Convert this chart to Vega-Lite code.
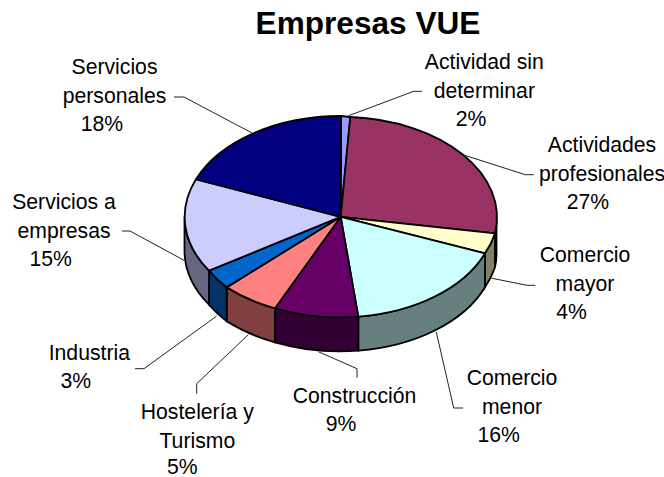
{"$schema":"https://vega.github.io/schema/vega-lite/v6.json","width":664,"height":477,"padding":0,"autosize":{"type":"none"},"background":"white","config":{"view":{"stroke":null}},
"data":{"values":[
{"sector":"Actividad sin determinar","label":"Actividad sin\ndeterminar","share":0.02},
{"sector":"Actividades profesionales","label":"Actividades\nprofesionales","share":0.27},
{"sector":"Comercio mayor","label":"Comercio\nmayor","share":0.04},
{"sector":"Comercio menor","label":"Comercio\nmenor","share":0.16},
{"sector":"Construcción","label":"Construcción","share":0.09},
{"sector":"Hostelería y Turismo","label":"Hostelería y\nTurismo","share":0.05},
{"sector":"Industria","label":"Industria","share":0.03},
{"sector":"Servicios a empresas","label":"Servicios a\nempresas","share":0.15},
{"sector":"Servicios personales","label":"Servicios\npersonales","share":0.18}
]},
"resolve":{"scale":{"shape":"independent","color":"independent"}},
"layer":[
{"data":{"values":[{"heading":"Empresas VUE"}]},"mark":{"type":"text","font":"Liberation Sans","fontSize":31.6,"fontWeight":"bold","color":"black","align":"center","baseline":"alphabetic","dx":36,"dy":-204.5},"encoding":{"text":{"field":"heading","type":"nominal"}}},
{"transform":[{"filter":"datum.sector!='Actividad sin determinar'&&datum.sector!='Servicios personales'"}],
"mark":{"type":"point","filled":true,"opacity":1,"size":4,"stroke":"black","strokeWidth":1.8},
"encoding":{
"shape":{"field":"sector","type":"nominal","legend":null,"scale":{"domain":["Actividades profesionales","Comercio mayor","Comercio menor","Construcción","Hostelería y Turismo","Industria","Servicios a empresas"],"range":[
"M164.5,-22 A156,100.5 0 0 1 163,-5.2 L163,28.8 A156,100.5 0 0 0 164.5,12 Z",
"M163,-5.2 A156,100.5 0 0 1 153,14.8 L153,48.8 A156,100.5 0 0 0 163,28.8 Z",
"M153,14.8 A156,100.5 0 0 1 26.3,78.2 L26.3,112.2 A156,100.5 0 0 0 153,48.8 Z",
"M26.3,78.2 A156,100.5 0 0 1 -57,69.8 L-57,103.8 A156,100.5 0 0 0 26.3,112.2 Z",
"M-57,69.8 A156,100.5 0 0 1 -105.3,48.8 L-105.3,82.8 A156,100.5 0 0 0 -57,103.8 Z",
"M-105.3,48.8 A156,100.5 0 0 1 -123,32.2 L-123,66.2 A156,100.5 0 0 0 -105.3,82.8 Z",
"M-123,32.2 A156,100.5 0 0 1 -147.5,-22 L-147.5,12 A156,100.5 0 0 0 -123,66.2 Z"]}},
"color":{"field":"sector","type":"nominal","legend":null,"scale":{"domain":["Actividades profesionales","Comercio mayor","Comercio menor","Construcción","Hostelería y Turismo","Industria","Servicios a empresas"],"range":["#4d1a33","#808066","#668080","#330033","#804040","#003366","#666680"]}}}},
{"mark":{"type":"point","filled":true,"opacity":1,"size":4,"stroke":"black","strokeWidth":1.8},
"encoding":{
"shape":{"field":"sector","type":"nominal","legend":null,"scale":{"domain":["Actividad sin determinar","Actividades profesionales","Comercio mayor","Comercio menor","Construcción","Hostelería y Turismo","Industria","Servicios a empresas","Servicios personales"],"range":[
"M8.7,-21.7 L9,-122.5 A156,100.5 0 0 1 18.3,-121.5 Z",
"M8.7,-21.7 L18.3,-121.5 A156,100.5 0 0 1 163,-5.2 Z",
"M8.7,-21.7 L163,-5.2 A156,100.5 0 0 1 153,14.8 Z",
"M8.7,-21.7 L153,14.8 A156,100.5 0 0 1 26.3,78.2 Z",
"M8.7,-21.7 L26.3,78.2 A156,100.5 0 0 1 -57,69.8 Z",
"M8.7,-21.7 L-57,69.8 A156,100.5 0 0 1 -105.3,48.8 Z",
"M8.7,-21.7 L-105.3,48.8 A156,100.5 0 0 1 -123,32.2 Z",
"M8.7,-21.7 L-123,32.2 A156,100.5 0 0 1 -136,-59.2 Z",
"M8.7,-21.7 L-136,-59.2 A156,100.5 0 0 1 9,-122.5 Z"]}},
"color":{"field":"sector","type":"nominal","legend":null,"scale":{"domain":["Actividad sin determinar","Actividades profesionales","Comercio mayor","Comercio menor","Construcción","Hostelería y Turismo","Industria","Servicios a empresas","Servicios personales"],"range":["#9999ff","#993366","#ffffcc","#ccffff","#660066","#ff8080","#0066cc","#ccccff","#000080"]}}}},
{"mark":{"type":"point","filled":false,"opacity":1,"size":4,"stroke":"#222222","strokeWidth":1,"fill":null},
"encoding":{
"shape":{"field":"sector","type":"nominal","legend":null,"scale":{"domain":["Actividad sin determinar","Actividades profesionales","Comercio mayor","Comercio menor","Construcción","Hostelería y Turismo","Industria","Servicios a empresas","Servicios personales"],"range":[
"M90,-147.2 L81.7,-147.2 L16.7,-122.8",
"M201.7,-63.8 L193.3,-63.8 L131.7,-83.5",
"M203.3,46.8 L195,46.8 L160,39.8",
"M131,169.5 L121.7,169.5 L104.3,93.5",
"M25,139.2 L25,130.2 L-13.7,113.2",
"M-135.3,155.2 L-135.3,145.2 L-83.7,96.2",
"M-197,130.2 L-188,130.2 L-115.3,77.5",
"M-210,-7.5 L-202,-7.5 L-148,21.8",
"M-158,-141.5 L-148,-141.5 L-80,-105.5"]}}}},
{"transform":[{"filter":"datum.sector=='Actividad sin determinar'"}],"mark":{"type":"text","font":"Liberation Sans","fontSize":21.2,"color":"black","align":"center","baseline":"alphabetic","lineBreak":"\n","lineHeight":29,"dx":152.3,"dy":-169.2},"encoding":{"text":{"field":"label","type":"nominal"}}},
{"transform":[{"filter":"datum.sector=='Actividad sin determinar'"}],"mark":{"type":"text","font":"Liberation Sans","fontSize":21.2,"color":"black","align":"center","baseline":"alphabetic","dx":139,"dy":-112.5},"encoding":{"text":{"field":"share","type":"quantitative","format":".0%"}}},
{"transform":[{"filter":"datum.sector=='Actividades profesionales'"}],"mark":{"type":"text","font":"Liberation Sans","fontSize":21.2,"color":"black","align":"center","baseline":"alphabetic","lineBreak":"\n","lineHeight":29,"dx":270,"dy":-86.8},"encoding":{"text":{"field":"label","type":"nominal"}}},
{"transform":[{"filter":"datum.sector=='Actividades profesionales'"}],"mark":{"type":"text","font":"Liberation Sans","fontSize":21.2,"color":"black","align":"center","baseline":"alphabetic","dx":256,"dy":-29.5},"encoding":{"text":{"field":"share","type":"quantitative","format":".0%"}}},
{"transform":[{"filter":"datum.sector=='Comercio mayor'"}],"mark":{"type":"text","font":"Liberation Sans","fontSize":21.2,"color":"black","align":"center","baseline":"alphabetic","lineBreak":"\n","lineHeight":29,"dx":253,"dy":23.5},"encoding":{"text":{"field":"label","type":"nominal"}}},
{"transform":[{"filter":"datum.sector=='Comercio mayor'"}],"mark":{"type":"text","font":"Liberation Sans","fontSize":21.2,"color":"black","align":"center","baseline":"alphabetic","dx":239.5,"dy":80.5},"encoding":{"text":{"field":"share","type":"quantitative","format":".0%"}}},
{"transform":[{"filter":"datum.sector=='Comercio menor'"}],"mark":{"type":"text","font":"Liberation Sans","fontSize":21.2,"color":"black","align":"center","baseline":"alphabetic","lineBreak":"\n","lineHeight":29,"dx":180,"dy":146.2},"encoding":{"text":{"field":"label","type":"nominal"}}},
{"transform":[{"filter":"datum.sector=='Comercio menor'"}],"mark":{"type":"text","font":"Liberation Sans","fontSize":21.2,"color":"black","align":"center","baseline":"alphabetic","dx":166.7,"dy":203.5},"encoding":{"text":{"field":"share","type":"quantitative","format":".0%"}}},
{"transform":[{"filter":"datum.sector=='Construcción'"}],"mark":{"type":"text","font":"Liberation Sans","fontSize":21.2,"color":"black","align":"center","baseline":"alphabetic","lineBreak":"\n","lineHeight":29,"dx":22.5,"dy":164.2},"encoding":{"text":{"field":"label","type":"nominal"}}},
{"transform":[{"filter":"datum.sector=='Construcción'"}],"mark":{"type":"text","font":"Liberation Sans","fontSize":21.2,"color":"black","align":"center","baseline":"alphabetic","dx":9,"dy":192.5},"encoding":{"text":{"field":"share","type":"quantitative","format":".0%"}}},
{"transform":[{"filter":"datum.sector=='Hostelería y Turismo'"}],"mark":{"type":"text","font":"Liberation Sans","fontSize":21.2,"color":"black","align":"center","baseline":"alphabetic","lineBreak":"\n","lineHeight":29,"dx":-134.7,"dy":180.2},"encoding":{"text":{"field":"label","type":"nominal"}}},
{"transform":[{"filter":"datum.sector=='Hostelería y Turismo'"}],"mark":{"type":"text","font":"Liberation Sans","fontSize":21.2,"color":"black","align":"center","baseline":"alphabetic","dx":-149.7,"dy":235.8},"encoding":{"text":{"field":"share","type":"quantitative","format":".0%"}}},
{"transform":[{"filter":"datum.sector=='Industria'"}],"mark":{"type":"text","font":"Liberation Sans","fontSize":21.2,"color":"black","align":"center","baseline":"alphabetic","lineBreak":"\n","lineHeight":29,"dx":-242.7,"dy":121.8},"encoding":{"text":{"field":"label","type":"nominal"}}},
{"transform":[{"filter":"datum.sector=='Industria'"}],"mark":{"type":"text","font":"Liberation Sans","fontSize":21.2,"color":"black","align":"center","baseline":"alphabetic","dx":-256.2,"dy":149.2},"encoding":{"text":{"field":"share","type":"quantitative","format":".0%"}}},
{"transform":[{"filter":"datum.sector=='Servicios a empresas'"}],"mark":{"type":"text","font":"Liberation Sans","fontSize":21.2,"color":"black","align":"center","baseline":"alphabetic","lineBreak":"\n","lineHeight":29,"dx":-268,"dy":-29.8},"encoding":{"text":{"field":"label","type":"nominal"}}},
{"transform":[{"filter":"datum.sector=='Servicios a empresas'"}],"mark":{"type":"text","font":"Liberation Sans","fontSize":21.2,"color":"black","align":"center","baseline":"alphabetic","dx":-281.3,"dy":27.8},"encoding":{"text":{"field":"share","type":"quantitative","format":".0%"}}},
{"transform":[{"filter":"datum.sector=='Servicios personales'"}],"mark":{"type":"text","font":"Liberation Sans","fontSize":21.2,"color":"black","align":"center","baseline":"alphabetic","lineBreak":"\n","lineHeight":29,"dx":-217.5,"dy":-164.5},"encoding":{"text":{"field":"label","type":"nominal"}}},
{"transform":[{"filter":"datum.sector=='Servicios personales'"}],"mark":{"type":"text","font":"Liberation Sans","fontSize":21.2,"color":"black","align":"center","baseline":"alphabetic","dx":-230,"dy":-107.5},"encoding":{"text":{"field":"share","type":"quantitative","format":".0%"}}}
]}
